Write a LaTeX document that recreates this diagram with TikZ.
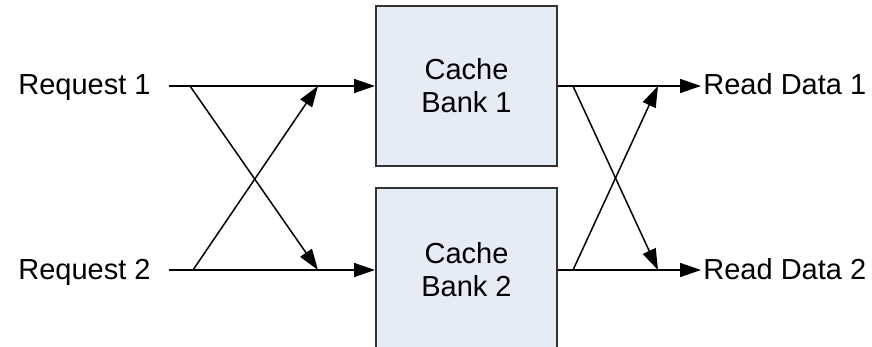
\documentclass[tikz,border=0pt]{standalone}
\usepackage{fontspec}
\setmainfont{Liberation Sans}
\usetikzlibrary{arrows.meta}
\definecolor{bankfill}{HTML}{E6ECF6}
\definecolor{bankline}{HTML}{333333}
\begin{document}
\begin{tikzpicture}[x=0.5pt,y=-0.5pt,
  lbl/.style={font=\fontsize{14.5pt}{16.5pt}\selectfont, inner sep=0pt, anchor=base west},
  bank/.style={draw=bankline, line width=1pt, fill=bankfill, minimum width=90.5pt, align=center,
    font=\fontsize{14.5pt}{16.5pt}\selectfont, inner sep=0pt},
  conn/.style={line width=0.75pt, draw=black},
  arr/.style={conn, -{Triangle[length=10.5pt,width=7pt]}}]
\useasboundingbox (0,0) rectangle (872,347);
\node[bank, minimum height=80pt] (b1) at (466.5,86) {Cache\\Bank 1};
\node[bank, minimum height=82pt] (b2) at (466.5,270) {Cache\\Bank 2};
\node[lbl] (req1) at (18,95) {Request 1};
\node[lbl] (req2) at (18,279) {Request 2};
\node[lbl] (rd1) at (703,95) {Read Data 1};
\node[lbl] (rd2) at (703,279) {Read Data 2};
% left coordinates
\coordinate (s1) at (169,86);
\coordinate (s2) at (169,270);
\coordinate (x1) at (190,86);
\coordinate (x2) at (193,270);
\coordinate (t1) at (318,270);
\coordinate (t2) at (318,86);
\coordinate (e1) at (375,86);
\coordinate (e2) at (375,270);
% right coordinates
\coordinate (y1) at (573,86);
\coordinate (y2) at (573,270);
\coordinate (u1) at (658,270);
\coordinate (u2) at (658,86);
\coordinate (f1) at (701,86);
\coordinate (f2) at (701,270);
\draw[arr] (s1) -- (e1);
\draw[arr] (s2) -- (e2);
\draw[arr] (x1) -- (t1);
\draw[arr] (x2) -- (t2);
\draw[arr] (b1.east |- f1) -- (f1);
\draw[arr] (b2.east |- f2) -- (f2);
\draw[arr] (y1) -- (u1);
\draw[arr] (y2) -- (u2);
\end{tikzpicture}
\end{document}
